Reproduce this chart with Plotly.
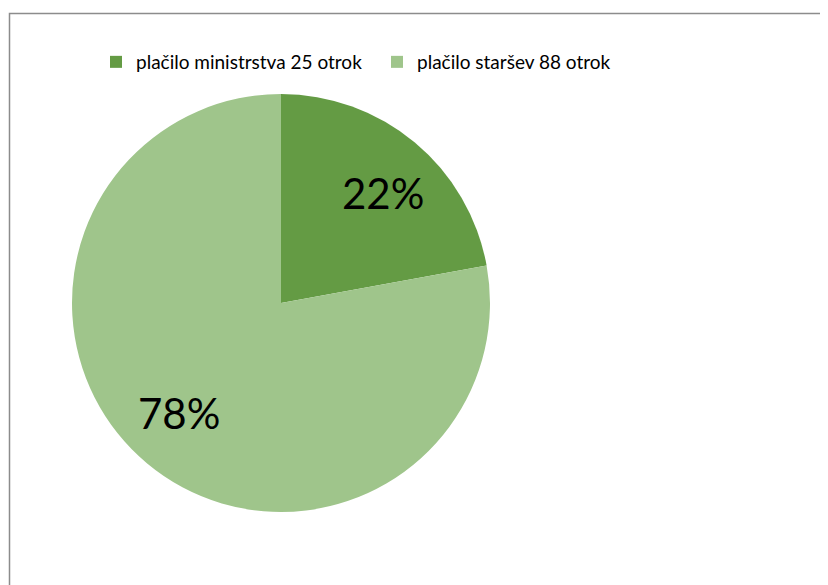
import math
import plotly.graph_objects as go

labels = ["plačilo ministrstva 25 otrok", "plačilo staršev 88 otrok"]
values = [25, 88]
colors = ["#649b44", "#9fc58b"]

# page offset (default body margin of the html page)
OFF = 8
W, H = 828 - OFF, 585 - OFF
cx, cy, r = 281 - OFF, 303 - OFF, 209

fig = go.Figure(go.Pie(
    labels=labels,
    values=values,
    sort=False,
    direction="clockwise",
    rotation=0,
    marker=dict(colors=colors, line=dict(width=0)),
    textinfo="none",
    domain=dict(x=[(cx - r) / W, (cx + r) / W], y=[1 - (cy + r) / H, 1 - (cy - r) / H]),
    hoverinfo="label+percent",
))

# percentage labels placed at the middle angle of each slice
total = sum(values)
annotations = []
start = 0.0
for v in values:
    frac = v / total
    mid = (start + frac / 2) * 360 + 3
    start += frac
    rr = 0.715 * r
    px = cx + rr * math.sin(math.radians(mid))
    py = cy - rr * math.cos(math.radians(mid))
    annotations.append(dict(
        x=px / W, y=1 - py / H, xref="paper", yref="paper",
        text=f"{round(frac * 100)}%", showarrow=False,
        xanchor="center", yanchor="middle",
        font=dict(family="Lato", size=42, color="black"),
    ))

fig.update_layout(
    width=W, height=H,
    margin=dict(l=0, r=0, t=0, b=0),
    paper_bgcolor="white",
    plot_bgcolor="white",
    font=dict(family="Lato", size=19, color="black"),
    legend=dict(
        orientation="h",
        x=88 / W, xanchor="left",
        y=1 - 35 / H, yanchor="top",
        entrywidth=236, entrywidthmode="pixels",
        font=dict(family="Lato", size=19, color="black"),
        bgcolor="rgba(0,0,0,0)",
    ),
    showlegend=True,
    annotations=annotations,
    shapes=[dict(
        type="rect", xref="paper", yref="paper",
        x0=(9.5 - OFF) / W, x1=1.1, y0=-0.1, y1=1 - (13.5 - OFF) / H,
        line=dict(color="#8c8c8c", width=1.5),
        fillcolor="rgba(0,0,0,0)", layer="below",
    )],
)

fig.write_html("out.html")
